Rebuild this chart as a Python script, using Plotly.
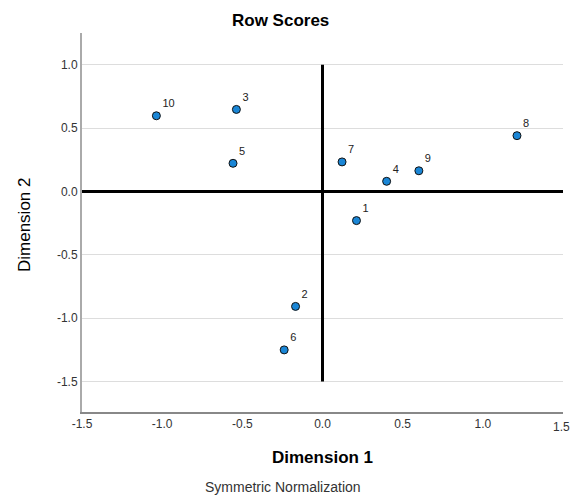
import plotly.graph_objects as go

labels = ["1", "2", "3", "4", "5", "6", "7", "8", "9", "10"]
dim1 = [0.212, -0.168, -0.537, 0.400, -0.558, -0.239, 0.122, 1.213, 0.601, -1.036]
dim2 = [-0.230, -0.907, 0.647, 0.080, 0.222, -1.250, 0.233, 0.440, 0.163, 0.597]

x_ticks = [-1.5, -1.0, -0.5, 0.0, 0.5, 1.0, 1.5]
y_ticks = [-1.5, -1.0, -0.5, 0.0, 0.5, 1.0]

L, R, T, B = 82, 563, 33, 412
W, H = 570, 495
pw, ph = R - L, B - T

fig = go.Figure()

# reference lines
fig.add_trace(go.Scatter(x=[0, 0], y=[-1.5, 1.0], mode="lines",
                         line=dict(color="black", width=3), hoverinfo="skip", showlegend=False))
fig.add_trace(go.Scatter(x=[-1.5, 1.5], y=[0, 0], mode="lines",
                         line=dict(color="black", width=3), hoverinfo="skip", showlegend=False))

fig.add_trace(go.Scatter(
    x=dim1, y=dim2, mode="markers+text", text=labels,
    textposition="top right",
    textfont=dict(family="Arial, Liberation Sans", size=11, color="#222"),
    marker=dict(size=8, color="#1a86d6", line=dict(color="#111", width=1)),
    showlegend=False, cliponaxis=False,
))


def px(xp):
    return (xp - L) / pw


def py(yp):
    return (B - yp) / ph


annotations = [
    dict(text="<b>Row Scores</b>", x=px(280), y=py(20), font=dict(size=17, color="black")),
    dict(text="<b>Dimension 1</b>", x=px(322), y=py(457), font=dict(size=17, color="black")),
    dict(text="Dimension 2", x=px(24), y=py(225), textangle=-90,
         font=dict(family="Liberation Sans Narrow, Arial Narrow, Liberation Sans", size=17, color="black")),
    dict(text="Symmetric Normalization", x=px(283), y=py(487), font=dict(size=14, color="#333")),
    dict(text=f"{x_ticks[-1]:.1f}", x=px(561), y=py(427), font=dict(size=12, color="#333")),
]
for a in annotations:
    a.update(xref="paper", yref="paper", xanchor="center", yanchor="middle", showarrow=False)

fig.update_layout(
    width=W, height=H,
    margin=dict(l=L, r=W - R, t=T, b=H - B, autoexpand=False),
    paper_bgcolor="white", plot_bgcolor="white",
    font=dict(family="Arial, Liberation Sans", color="#222"),
    xaxis=dict(range=[-1.5, 1.5], tickvals=x_ticks[:-1],
               ticktext=[f"{v:.1f}" for v in x_ticks[:-1]],
               showgrid=False, zeroline=False, showline=True, automargin=False,
               linecolor="#888", linewidth=2, ticklen=0,
               tickfont=dict(size=12, color="#333")),
    yaxis=dict(range=[-1.74, 1.25], tickvals=y_ticks,
               ticktext=[f"{v:.1f}" for v in y_ticks],
               showgrid=True, gridcolor="#dddddd", gridwidth=1, automargin=False,
               zeroline=False, showline=True, ticklen=0,
               linecolor="#aaa", linewidth=2,
               tickfont=dict(size=12, color="#333")),
    annotations=annotations,
)

fig.write_html("out.html", config={"displayModeBar": False},
               post_script="document.body.style.margin='0';document.body.style.overflow='hidden';")
